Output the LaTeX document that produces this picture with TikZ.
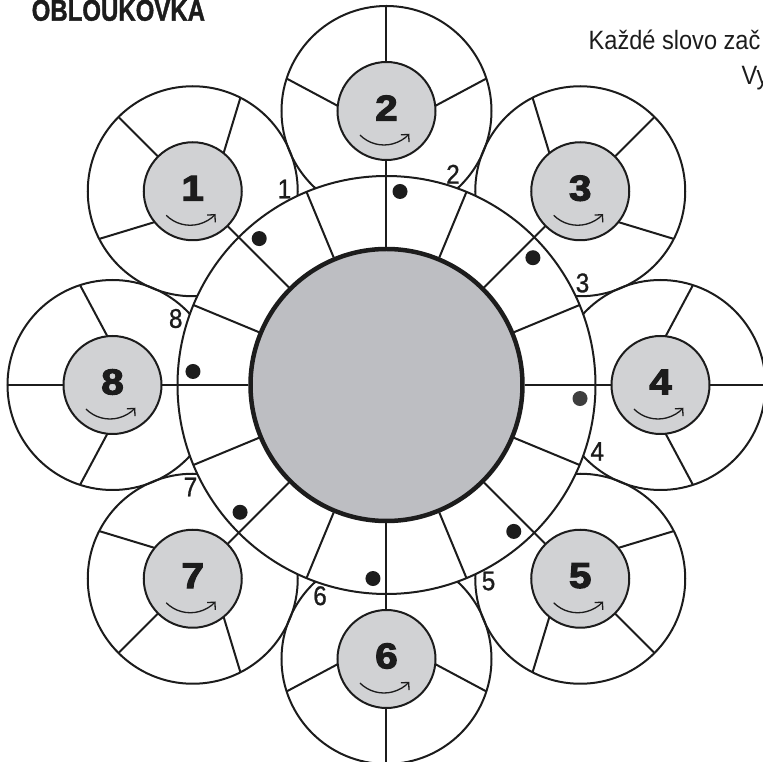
\documentclass[tikz,border=0pt]{standalone}
\usepackage{fontspec}
\setmainfont{Liberation Sans}
\usetikzlibrary{arrows.meta}
\definecolor{petalgray}{RGB}{209,210,212}
\definecolor{centergray}{RGB}{189,190,194}
\definecolor{inkc}{RGB}{28,28,28}
\definecolor{dotgray}{RGB}{62,62,62}
\tikzset{
  outl/.style={draw=inkc, line width=2pt},
  petalcirc/.style={circle, draw=inkc, line width=2pt, minimum size=210pt, inner sep=0pt},
  hubcirc/.style={circle, draw=inkc, fill=petalgray, line width=2pt, minimum size=98pt, inner sep=0pt},
  bignum/.style={font=\fontsize{36}{36}\selectfont\bfseries\addfontfeature{FakeBold=3}, text=inkc, inner sep=0pt},
  smallnum/.style={font=\fontsize{27}{27}\selectfont\addfontfeature{FakeBold=1}, text=inkc, inner sep=0pt},
  turnarrow/.style={draw=inkc, line width=1.3pt, -{Straight Barb[length=5.5pt,width=11pt]}},
  spot/.style={circle, fill=inkc, minimum size=15pt, inner sep=0pt},
}
\begin{document}
\begin{tikzpicture}[x=1pt,y=1pt]
\useasboundingbox (-386.5,-377) rectangle (376.5,385);
\clip (-386.5,-377) rectangle (376.5,385);

% petals outlines
\foreach \k/\a in {1/135,2/90,3/45,4/0,5/-45,6/-90,7/-135,8/180}{
  \node[petalcirc] (p\k) at (\a:274) {};
}
% petal dividers, hubs, numbers, arrows
\foreach \k/\a in {1/135,2/90,3/45,4/0,5/-45,6/-90,7/-135,8/180}{
  \begin{scope}[shift={(\a:274)}]
    \draw[outl] (\a:49) -- (\a:105);
    \draw[outl] (\a+84:49) -- (\a+72:105);
    \draw[outl] (\a-84:49) -- (\a-72:105);
    \draw[outl] (\a+180:49) -- (\a+180:80);
    \node[hubcirc] (g\k) at (0,0) {};
    \node[bignum] (n\k) at (0,3) {\scalebox{1.12}[1]{\k}};
    \draw[turnarrow] (-2.5,0) ++(225:34) arc[start angle=225, end angle=318, radius=34];
  \end{scope}
}

% ring
\fill[white, even odd rule] (0,0) circle[radius=209] (0,0) circle[radius=138];
\node[circle, draw=inkc, line width=2pt, minimum size=418pt, inner sep=0pt] (ring) at (0,0) {};
\foreach \i in {0,...,15}{
  \draw[outl] (\i*22.5:138) -- (\i*22.5:209);
}
% dots
\foreach \k/\a in {1/135,2/90,3/45,5/-45,6/-90,7/-135,8/180}{
  \node[spot] (d\k) at (\a-4:194) {};
}
\node[spot, fill=dotgray] (d4) at (-4:194) {};
% small labels
\foreach \k/\a in {1/135,2/90,3/45,4/0,5/-45,6/-90,7/-135,8/180}{
  \node[smallnum] (l\k) at (\a-17.5:221) {\scalebox{0.9}[1]{\k}};
}
% central disc
\node[circle, draw=inkc, fill=centergray, line width=4.5pt, minimum size=272pt, inner sep=0pt] (hub) at (0,0) {};

% texts
\node[anchor=base west, inner sep=0pt, font=\fontsize{30}{30}\selectfont\bfseries\addfontfeature{FakeBold=1.5}, text=inkc] (title) at (-355,364.3) {\scalebox{0.8}[1]{OBLOUKOVKA}};
\node[anchor=base west, inner sep=0pt, font=\fontsize{26.5}{26.5}\selectfont, text=inkc] (instr1) at (202,335.5) {\scalebox{0.89}[1]{Každé slovo zač}};
\node[anchor=base west, inner sep=0pt, font=\fontsize{26.5}{26.5}\selectfont, text=inkc] (instr2) at (355,300) {\scalebox{0.89}[1]{Vy}};
\end{tikzpicture}
\end{document}
